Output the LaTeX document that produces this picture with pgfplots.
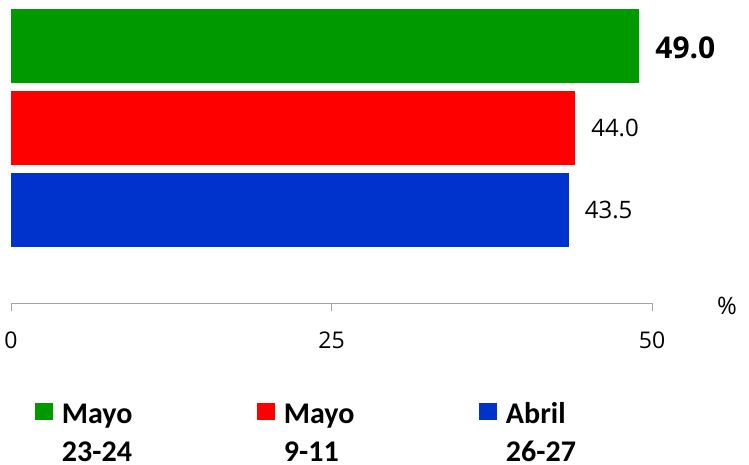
\documentclass[border=0pt]{standalone}
\usepackage{fontspec}
\setmainfont{Open Sans}
\newfontfamily\legendfont{Carlito}
\usepackage{pgfplots}
\pgfplotsset{compat=1.18}
\definecolor{cgreen}{RGB}{0,153,0}
\definecolor{cred}{RGB}{255,0,0}
\definecolor{cblue}{RGB}{0,51,204}
\definecolor{axisgray}{RGB}{165,165,165}
\begin{document}
\begin{tikzpicture}
\useasboundingbox (0,0) rectangle (749pt,464pt);
\begin{axis}[
  at={(11pt,161pt)}, anchor=south west,
  scale only axis, width=641pt, height=294pt,
  xbar, bar width=0.9,
  xmin=0, xmax=50, ymin=-1.134, ymax=2.451,
  axis y line=none,
  axis x line*=bottom,
  axis line style={draw=axisgray, line width=1pt, -},
  xtick={0,25,50},
  major tick length=8pt, tick align=outside,
  tick style={draw=axisgray, line width=1pt},
  xticklabel style={font=\fontsize{23}{23}\selectfont, anchor=base, inner sep=0pt, yshift=-37pt},
  /pgf/number format/assume math mode=true,
  xlabel={\%},
  xlabel style={at={(axis description cs:1.117,0)}, anchor=center, font=\fontsize{24}{24}\selectfont, yshift=-3pt},
  legend columns=3,
  legend style={at={(axis description cs:0.0374,-0.3299)}, anchor=north west, draw=none, fill=none,
    inner sep=0pt, outer sep=0pt, column sep=9pt,
    nodes={inner sep=0pt, font=\legendfont\bfseries\fontsize{30}{34}\selectfont},
    cells={anchor=west}},
  every axis plot post/.append style={bar shift=0pt,
    legend image code/.code={\fill[##1] (0pt,-7pt) rectangle (18pt,10pt);}},
  every node near coord/.append style={anchor=west, inner sep=0pt, xshift=16pt},
]
\addplot[fill=cgreen, draw=none,
  nodes near coords={\bfseries\fontsize{30}{30}\selectfont\pgfmathprintnumber[fixed,fixed zerofill,precision=1,assume math mode=true]{\pgfplotspointmeta}},
  every node near coord/.append style={yshift=-2pt}]
  coordinates {(49.0,2)};
\addlegendentry{\makebox[186pt][l]{\begin{tabular}[t]{@{}l@{}}Mayo\\[4pt]23-24\end{tabular}}}
\addplot[fill=cred, draw=none,
  nodes near coords={\fontsize{24}{24}\selectfont\pgfmathprintnumber[fixed,fixed zerofill,precision=1,assume math mode=true]{\pgfplotspointmeta}}]
  coordinates {(44.0,1)};
\addlegendentry{\makebox[186pt][l]{\begin{tabular}[t]{@{}l@{}}Mayo\\[4pt]9-11\end{tabular}}}
\addplot[fill=cblue, draw=none,
  nodes near coords={\fontsize{24}{24}\selectfont\pgfmathprintnumber[fixed,fixed zerofill,precision=1,assume math mode=true]{\pgfplotspointmeta}}]
  coordinates {(43.5,0)};
\addlegendentry{\makebox[186pt][l]{\begin{tabular}[t]{@{}l@{}}Abril\\[4pt]26-27\end{tabular}}}
\end{axis}
\end{tikzpicture}
\end{document}
